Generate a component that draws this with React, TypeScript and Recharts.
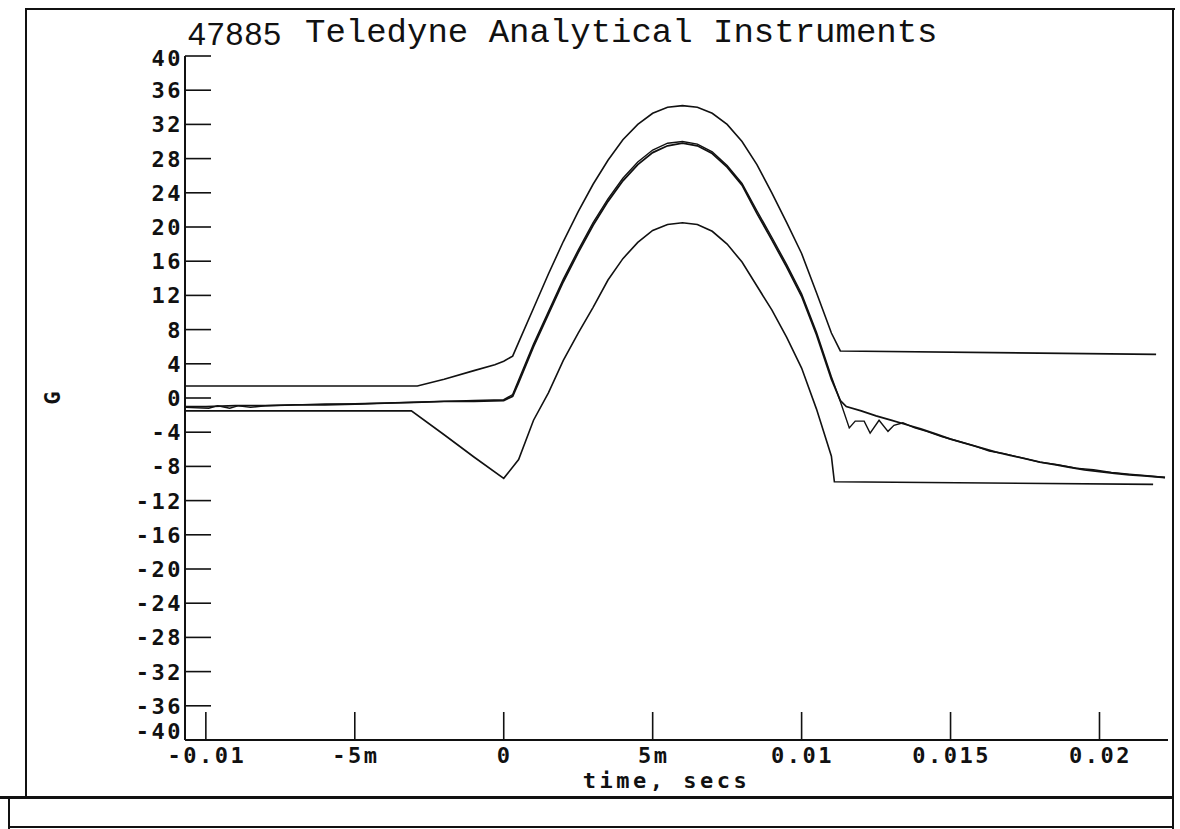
import { LineChart, Line, XAxis, YAxis } from "recharts";

const xDomain = [-0.0107, 0.0223];
const xTicks = [-0.01, -0.005, 0, 0.005, 0.01, 0.015, 0.02];
const xTickLabels = ["-0.01", "-5m", "0", "5m", "0.01", "0.015", "0.02"];
const yTicks = [40, 36, 32, 28, 24, 20, 16, 12, 8, 4, 0, -4, -8, -12, -16, -20, -24, -28, -32, -36, -40];

// upper tolerance limit
const upperT = [-0.0107, -0.0029, -0.002, -0.001, -0.0003, 0, 0.0003, 0.0005, 0.001, 0.0015, 0.002, 0.0025, 0.003, 0.0035, 0.004, 0.0045, 0.005, 0.0055, 0.006, 0.0065, 0.007, 0.0075, 0.008, 0.0085, 0.009, 0.0095, 0.01, 0.0105, 0.011, 0.0113, 0.0219];
const upperG = [1.4, 1.4, 2.2, 3.2, 3.9, 4.3, 4.9, 6.5, 10.5, 14.5, 18.3, 21.8, 25, 27.8, 30.2, 32, 33.3, 34, 34.2, 34, 33.3, 32, 30, 27.3, 24, 20.5, 16.9, 12.3, 7.6, 5.5, 5.1];

// lower tolerance limit
const lowerT = [-0.0107, -0.0031, -0.002, -0.001, 0, 0.0005, 0.001, 0.0015, 0.002, 0.0025, 0.003, 0.0035, 0.004, 0.0045, 0.005, 0.0055, 0.006, 0.0065, 0.007, 0.0075, 0.008, 0.0085, 0.009, 0.0095, 0.01, 0.0105, 0.011, 0.0111, 0.0218];
const lowerG = [-1.5, -1.5, -4.3, -6.9, -9.4, -7.2, -2.6, 0.6, 4.4, 7.6, 10.6, 13.8, 16.3, 18.2, 19.6, 20.3, 20.5, 20.3, 19.5, 18, 15.9, 13.1, 10.3, 7.1, 3.5, -1.3, -6.8, -9.8, -10.1];

// measured pulse, channel 1
const sig1T = [-0.0107, -0.01, -0.009, -0.008, -0.007, -0.006, -0.005, -0.004, -0.003, -0.002, -0.001, 0, 0.0003, 0.0005, 0.001, 0.0015, 0.002, 0.0025, 0.003, 0.0035, 0.004, 0.0045, 0.005, 0.0055, 0.006, 0.0065, 0.007, 0.0075, 0.008, 0.0085, 0.009, 0.0095, 0.01, 0.0105, 0.011, 0.0113, 0.0115, 0.012, 0.0125, 0.013, 0.0135, 0.014, 0.0145, 0.015, 0.0155, 0.016, 0.0165, 0.017, 0.0175, 0.018, 0.0185, 0.019, 0.0195, 0.02, 0.0205, 0.021, 0.0215, 0.0222];
const sig1G = [-1.0, -1.0, -0.9, -0.9, -0.8, -0.8, -0.7, -0.6, -0.5, -0.4, -0.4, -0.3, 0.2, 1.8, 6.0, 9.8, 13.6, 17, 20.2, 23, 25.4, 27.3, 28.7, 29.5, 29.8, 29.5, 28.6, 27, 24.9, 21.6, 18.5, 15.3, 11.9, 7.4, 2.2, -0.3, -1.0, -1.5, -2.1, -2.6, -3.1, -3.6, -4.2, -4.8, -5.3, -5.8, -6.3, -6.7, -7.1, -7.5, -7.8, -8.1, -8.4, -8.6, -8.8, -9.0, -9.1, -9.3];

// measured pulse, channel 2
const sig2T = [-0.0107, -0.0099, -0.0096, -0.0092, -0.0089, -0.0085, -0.008, -0.007, -0.006, -0.005, -0.004, -0.003, -0.002, -0.001, 0, 0.0003, 0.0005, 0.001, 0.0015, 0.002, 0.0025, 0.003, 0.0035, 0.004, 0.0045, 0.005, 0.0055, 0.006, 0.0065, 0.007, 0.0075, 0.008, 0.0085, 0.009, 0.0095, 0.01, 0.0105, 0.011, 0.0113, 0.0116, 0.0118, 0.0121, 0.0123, 0.0126, 0.0129, 0.0131, 0.0134, 0.0138, 0.0142, 0.0147, 0.0152, 0.0158, 0.0163, 0.0168, 0.0174, 0.018, 0.0186, 0.0192, 0.0198, 0.0204, 0.021, 0.0216, 0.0222];
const sig2G = [-1.1, -1.2, -0.9, -1.2, -0.9, -1.1, -0.9, -0.8, -0.7, -0.7, -0.6, -0.5, -0.4, -0.3, -0.2, 0.4, 2.1, 6.3, 10.1, 13.9, 17.3, 20.5, 23.3, 25.7, 27.6, 29.0, 29.8, 30.0, 29.7, 28.8, 27.2, 25.1, 21.9, 18.8, 15.6, 12.2, 7.7, 2.5, -0.4, -3.5, -2.7, -2.7, -4.1, -2.6, -3.9, -3.2, -2.9, -3.5, -3.9, -4.5, -5.0, -5.6, -6.2, -6.5, -7.0, -7.5, -7.8, -8.2, -8.4, -8.7, -8.9, -9.1, -9.3];

const toPoints = (ts: number[], gs: number[]) => ts.map((t, i) => ({ t, g: gs[i] }));

const ink = "#111";
const mono = "'DejaVu Sans Mono', monospace";

function YTick({ x, y, payload }: any) {
  // end labels sit a little inside the frame, as on the plotter output
  const nudge = payload.value === -40 ? -9 : payload.value === 40 ? 2 : 0;
  return (
    <g>
      <line x1={x} x2={x + 26} y1={y} y2={y} stroke={ink} strokeWidth={1.6} />
      <text x={x - 2} y={y + nudge} dy={8} textAnchor="end" fontFamily={mono} fontWeight="bold" fontSize={22} letterSpacing={2.5} fill={ink}>
        {payload.value}
      </text>
    </g>
  );
}

function XTick({ x, y, payload }: any) {
  const label = xTickLabels[xTicks.indexOf(payload.value)];
  return (
    <g>
      <line x1={x} x2={x} y1={y} y2={y - 28} stroke={ink} strokeWidth={1.6} />
      <text x={x + 1} y={y + 23} textAnchor="middle" fontFamily={mono} fontWeight="bold" fontSize={22} letterSpacing={2.5} fill={ink}>
        {label}
      </text>
    </g>
  );
}

const rule = (left: number, top: number, width: number, height: number) => (
  <div style={{ position: "absolute", left, top, width, height, background: ink }} />
);

export default function App() {
  const lineProps = {
    dataKey: "g",
    type: "linear" as const,
    stroke: ink,
    strokeWidth: 1.6,
    dot: false,
    isAnimationActive: false,
  };
  return (
    <div style={{ position: "absolute", left: 0, top: 0, width: 1180, height: 829, background: "#fff", overflow: "hidden" }}>
      {rule(25, 8, 1150, 2)}
      {rule(25, 8, 2, 790)}
      {rule(1172, 8, 2, 821)}
      {rule(0, 796, 1174, 3)}
      {rule(8, 826, 1166, 2)}
      {rule(8, 797, 2, 32)}
      <div style={{ position: "absolute", left: 188, top: 16, fontFamily: "'Liberation Sans', sans-serif", fontSize: 32, letterSpacing: 1, color: ink }}>
        47885
      </div>
      <div style={{ position: "absolute", left: 305, top: 14, fontFamily: "'Liberation Mono', monospace", fontSize: 34, color: ink, whiteSpace: "pre" }}>
        Teledyne Analytical Instruments
      </div>
      <LineChart width={1180} height={829} margin={{ top: 56, right: 12, left: 25, bottom: 41 }}>
        <XAxis
          dataKey="t"
          type="number"
          domain={xDomain}
          allowDataOverflow
          ticks={xTicks}
          interval={0}
          height={48}
          tickSize={0}
          tickMargin={0}
          tick={<XTick />}
          tickLine={false}
          axisLine={{ stroke: ink, strokeWidth: 2 }}
          label={{ value: "time, secs", position: "insideBottom", offset: 0, dx: -10, fontFamily: mono, fontWeight: "bold", fontSize: 22, fill: ink, style: { letterSpacing: 3.5 } }}
        />
        <XAxis
          xAxisId="top"
          orientation="top"
          type="number"
          domain={xDomain}
          allowDataOverflow
          height={0}
          tick={false}
          tickLine={false}
          axisLine={{ stroke: ink, strokeWidth: 2 }}
        />
        <YAxis
          type="number"
          domain={[-40, 40]}
          allowDataOverflow
          ticks={yTicks}
          interval={0}
          width={160}
          tickSize={0}
          tickMargin={0}
          tick={<YTick />}
          tickLine={false}
          axisLine={{ stroke: ink, strokeWidth: 2 }}
          label={{ value: "G", position: "insideLeft", angle: -90, offset: 27, fontFamily: mono, fontWeight: "bold", fontSize: 22, fill: ink, style: { textAnchor: "middle" } }}
        />
        <YAxis
          yAxisId="right"
          orientation="right"
          type="number"
          domain={[-40, 40]}
          width={0}
          tick={false}
          tickLine={false}
          axisLine={{ stroke: ink, strokeWidth: 2 }}
        />
        <Line {...lineProps} data={toPoints(upperT, upperG)} />
        <Line {...lineProps} data={toPoints(lowerT, lowerG)} />
        <Line {...lineProps} data={toPoints(sig2T, sig2G)} strokeWidth={1.4} />
        <Line {...lineProps} data={toPoints(sig1T, sig1G)} strokeWidth={1.8} />
      </LineChart>
    </div>
  );
}
